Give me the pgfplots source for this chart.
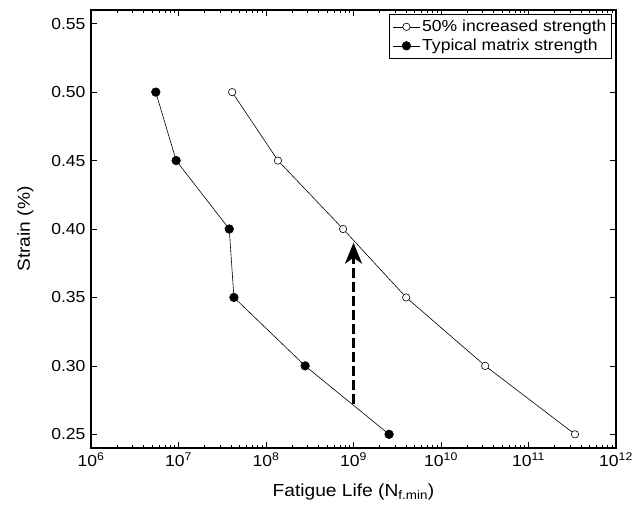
\documentclass[border=0pt]{standalone}
\usepackage{pgfplots}
\pgfplotsset{compat=1.18}
\usepackage{fontspec}
\setmainfont{Liberation Sans}[FakeStretch=1.1]
\usetikzlibrary{arrows.meta}
\begin{document}
\begin{tikzpicture}
\begin{axis}[
    scale only axis,
    width=525bp, height=438bp,
    xmode=log,
    xmin=1e6, xmax=1e12,
    ymin=0.24, ymax=0.56,
    xtick={1e6,1e7,1e8,1e9,1e10,1e11,1e12},
    xticklabels={10\textsuperscript{6},10\textsuperscript{7},10\textsuperscript{8},10\textsuperscript{9},10\textsuperscript{10},10\textsuperscript{11},10\textsuperscript{12}},
    minor xtick={2e6,3e6,4e6,5e6,6e6,7e6,8e6,9e6,
                 2e7,3e7,4e7,5e7,6e7,7e7,8e7,9e7,
                 2e8,3e8,4e8,5e8,6e8,7e8,8e8,9e8,
                 2e9,3e9,4e9,5e9,6e9,7e9,8e9,9e9,
                 2e10,3e10,4e10,5e10,6e10,7e10,8e10,9e10,
                 2e11,3e11,4e11,5e11,6e11,7e11,8e11,9e11},
    ytick={0.25,0.30,0.35,0.40,0.45,0.50,0.55},
    yticklabels={0.25,0.30,0.35,0.40,0.45,0.50,0.55},
    tick label style={font=\fontsize{16}{19}\selectfont, black},
    yticklabel style={xshift=-2bp},
    xticklabel style={yshift=-1bp},
    label style={font=\fontsize{17.5}{20}\selectfont},
    xlabel={Fatigue Life (N\textsubscript{f.min})},
    ylabel={Strain (\%)},
    xlabel style={at={(axis description cs:0.5,-0.1)}, anchor=center},
    ylabel style={at={(axis description cs:-0.125,0.5)}, anchor=center},
    tick align=inside,
    major tick length=6bp, minor tick length=3.5bp,
    axis line style={line width=1.1pt},
    every tick/.append style={black, line width=0.7pt},
    legend style={at={(rel axis cs:0.992,0.991)}, anchor=north east, draw=black, line width=0.7pt,
      font=\fontsize{16}{19}\selectfont, inner xsep=3bp, inner ysep=4bp, row sep=2bp,
      legend cell align=left},
    legend image code/.code={\draw[#1, mark repeat=2, mark phase=2] plot coordinates {(0bp,0bp) (13.5bp,0bp) (27bp,0bp)};},
]
\addplot[black, line width=0.6pt, mark=*, mark options={fill=white, line width=0.6pt}, mark size=3.7bp]
  coordinates {(4.1e7,0.50) (1.37e8,0.45) (7.6e8,0.40) (4.0e9,0.35) (3.2e10,0.30) (3.4e11,0.25)};
\addlegendentry{50\% increased strength}
\addplot[black, line width=0.6pt, mark=*, mark options={fill=black}, mark size=4.3bp]
  coordinates {(5.5e6,0.50) (9.4e6,0.45) (3.8e7,0.40) (4.3e7,0.35) (2.8e8,0.30) (2.55e9,0.25)};
\addlegendentry{Typical matrix strength}
\addplot[black, line width=2.4pt, dash pattern=on 10bp off 4bp, -{Stealth[length=21bp, width=17bp, inset=6bp]}, forget plot]
  coordinates {(1e9,0.2725) (1e9,0.39)};
\end{axis}
\path ([xshift=-91bp,yshift=-66bp]current axis.south west) rectangle ([xshift=26bp,yshift=10bp]current axis.north east);
\end{tikzpicture}
\end{document}
